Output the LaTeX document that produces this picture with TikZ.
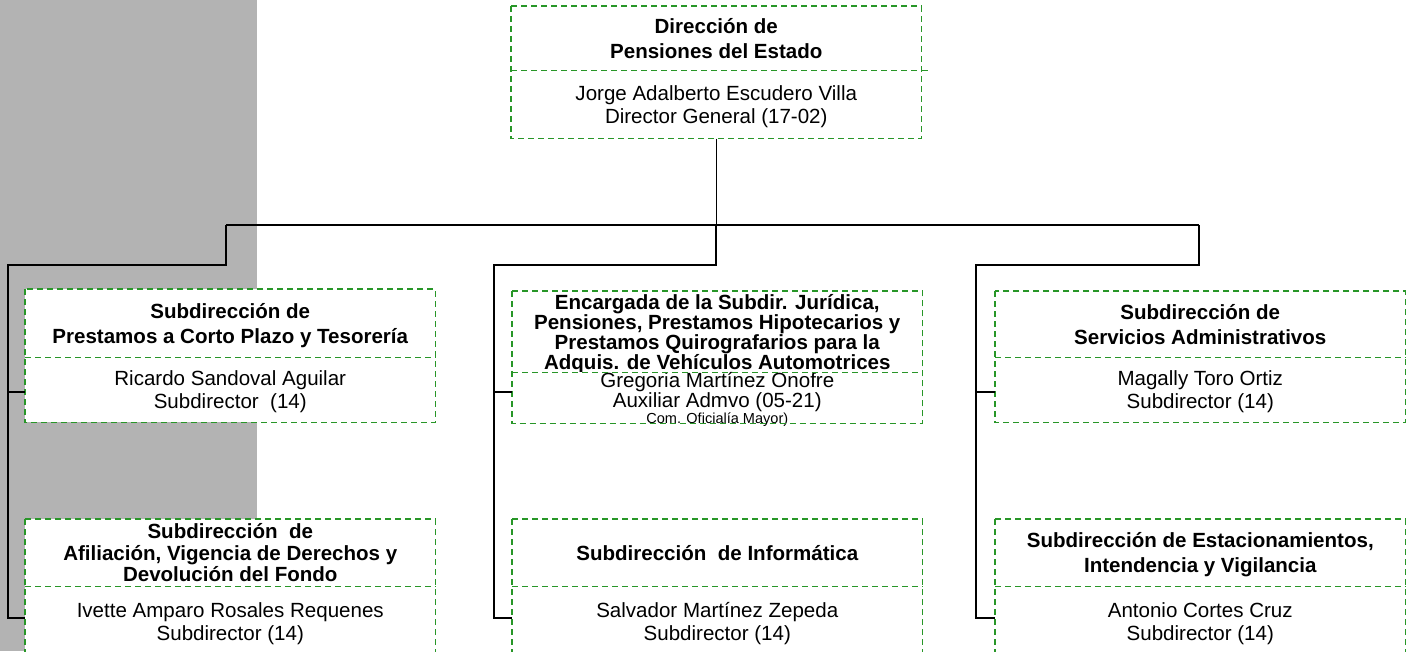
\documentclass[tikz,border=0pt]{standalone}
\usepackage{fontspec}
\setmainfont{Liberation Sans}
\usepackage{tikz}

\definecolor{boxgreen}{RGB}{40,150,40}
\definecolor{sidegray}{RGB}{179,179,179}
\newcommand{\px}{0.75pt}

\tikzset{
  part/.style={fill=white, minimum width=410*\px, inner sep=0pt, text depth=0pt, align=center,
    anchor=north west, font=\fontsize{15.4}{17.5}\selectfont},
  head/.style={part, font=\bfseries\fontsize{15.4}{18.5}\selectfont},
  frame/.style={draw=boxgreen, dash pattern=on 4.5pt off 3pt, line width=1.1pt},
  conn/.style={line width=1.1pt, black},
}

\begin{document}
\begin{tikzpicture}[x=\px,y=-\px]
\useasboundingbox (0,0) rectangle (1413,651);
\clip (0,0) rectangle (1413,651);
\fill[sidegray] (0,0) rectangle (257,651);
% connectors
\coordinate (busL) at (226,225);
\coordinate (busM) at (716,225);
\coordinate (busR) at (1199,225);
\coordinate (spineA) at (8,265);
\coordinate (spineB) at (494,265);
\coordinate (spineC) at (976,265);
\coordinate (rowA) at (0,392);
\coordinate (rowB) at (0,618);
% boxes
\node[head, minimum height=64*\px] (dirhead) at (511,6) {Dirección de\\Pensiones del Estado};
\node[part, minimum height=68*\px] (dirname) at (511,70) {Jorge Adalberto Escudero Villa\\Director General (17-02)};
\node[head, minimum height=68*\px] (prehead) at (25,289) {Subdirección de\\Prestamos a Corto Plazo y Tesorería};
\node[part, minimum height=65*\px] (prename) at (25,357) {Ricardo Sandoval Aguilar\\Subdirector\ \ (14)};
\node[head, minimum height=81*\px, font=\bfseries\fontsize{15.4}{15}\selectfont] (jurhead) at (512,291) {Encargada de la Subdir. Jurídica,\\Pensiones, Prestamos Hipotecarios y\\Prestamos Quirografarios para la\\Adquis. de Vehículos Automotrices};
\node[part, minimum height=50*\px, font=\fontsize{15.4}{13.5}\selectfont] (jurname) at (512,372) {Gregoria Martínez Onofre\\Auxiliar Admvo (05-21)\\[-2pt]{\fontsize{10.9}{10}\selectfont Com. Oficialía Mayor)}};
\node[head, minimum height=66*\px] (serhead) at (995,291) {Subdirección de\\Servicios Administrativos};
\node[part, minimum height=65*\px] (sername) at (995,357) {Magally Toro Ortiz\\Subdirector (14)};
\node[head, minimum height=67*\px, font=\bfseries\fontsize{15.4}{16}\selectfont] (afihead) at (25,519) {Subdirección\ \ de\\Afiliación, Vigencia de Derechos y\\Devolución del Fondo};
\node[part, minimum height=70*\px] (afiname) at (25,586) {Ivette Amparo Rosales Requenes\\Subdirector (14)};
\node[head, minimum height=67*\px] (infhead) at (512,519) {Subdirección\ \ de Informática};
\node[part, minimum height=70*\px] (infname) at (512,586) {Salvador Martínez Zepeda\\Subdirector (14)};
\node[head, minimum height=67*\px] (esthead) at (995,519) {Subdirección de Estacionamientos,\\Intendencia y Vigilancia};
\node[part, minimum height=70*\px] (estname) at (995,586) {Antonio Cortes Cruz\\Subdirector (14)};
% frames
\foreach \b in {dir,pre,jur,ser,afi,inf,est}
  \draw[frame] (\b head.north west) rectangle (\b name.south east)
    (\b head.south west) -- (\b head.south east);
\draw[frame] (dirhead.south east) -- ++(6,0);
% lines
\draw[conn] (dirname.south) -- (dirname.south |- busM);
\draw[conn] (busL) -- (busR);
\draw[conn] (busL) |- (spineA) -- (spineA |- rowB) -- (afiname.west |- rowB);
\draw[conn] (spineA |- rowA) -- (prename.west |- rowA);
\draw[conn] (busM) |- (spineB) -- (spineB |- rowB) -- (infname.west |- rowB);
\draw[conn] (spineB |- rowA) -- (jurname.west |- rowA);
\draw[conn] (busR) |- (spineC) -- (spineC |- rowB) -- (estname.west |- rowB);
\draw[conn] (spineC |- rowA) -- (sername.west |- rowA);
\end{tikzpicture}
\end{document}
